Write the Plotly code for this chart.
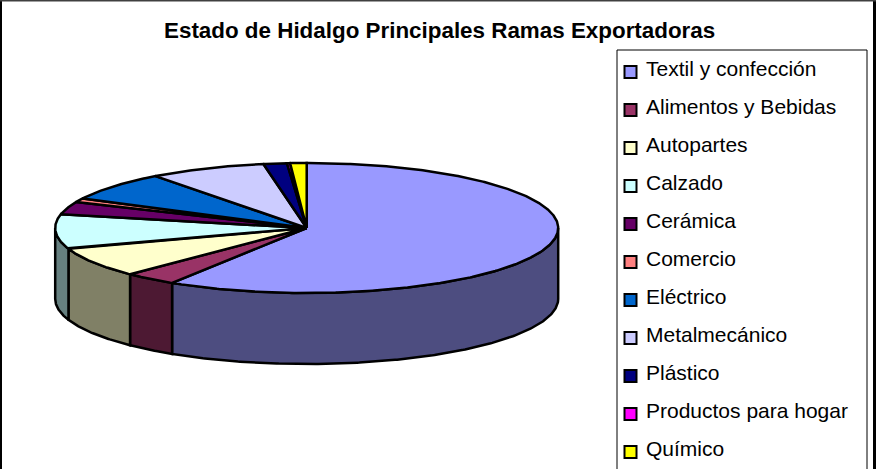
import numpy as np
import plotly.graph_objects as go

TITLE = "Estado de Hidalgo Principales Ramas Exportadoras"
categories = ["Textil y confección", "Alimentos y Bebidas", "Autopartes", "Calzado", "Cerámica",
              "Comercio", "Eléctrico", "Metalmecánico", "Plástico", "Productos para hogar", "Químico"]
values = [58.9, 3.4, 7.4, 8.6, 3.1, 1.0, 7.2, 7.5, 1.5, 0.2, 1.05]
top_colors = ["#9999FF", "#993366", "#FFFFCC", "#CCFFFF", "#660066", "#FF8080",
              "#0066CC", "#CCCCFF", "#000080", "#FF00FF", "#FFFF00"]
side_colors = ["#4D4D80", "#4D1933", "#808066", "#668080", "#330033", "#804040",
               "#003366", "#666680", "#000040", "#800080", "#808000"]

W, H = 876, 469
CX, CY, RX, RY, DEPTH = 306.7, 228, 251.5, 65, 71
FONT = "Liberation Sans"
EDGE = 2.5


def rim(a, b, drop=0.0):
    t = np.radians(np.linspace(a, b, max(2, int(abs(b - a) * 2) + 2)))
    return CX + RX * np.sin(t), CY - RY * np.cos(t) + drop


fig = go.Figure()
total = sum(values)
edges = np.concatenate([[0], np.cumsum(values) / total * 360])

# front walls
for name, a, b, col in zip(categories, edges[:-1], edges[1:], side_colors):
    lo, hi = max(a, 90), min(b, 270)
    if lo >= hi:
        continue
    x1, y1 = rim(lo, hi)
    x2, y2 = rim(hi, lo, DEPTH)
    fig.add_trace(go.Scatter(x=np.r_[x1, x2, x1[0]], y=np.r_[y1, y2, y1[0]], mode="lines", fill="toself",
                             fillcolor=col, line=dict(color="black", width=EDGE), name=name,
                             hoverinfo="skip", showlegend=False))

# top faces
for name, v, a, b, col in zip(categories, values, edges[:-1], edges[1:], top_colors):
    x, y = rim(a, b)
    fig.add_trace(go.Scatter(x=np.r_[CX, x, CX], y=np.r_[CY, y, CY], mode="lines", fill="toself",
                             fillcolor=col, line=dict(color="black", width=EDGE), name=name,
                             text=f"{name}: {v}", hoverinfo="text", showlegend=False))

# legend
LEG_X, LEG_Y0, LEG_STEP = 630.5, 72, 38
fig.add_shape(type="rect", x0=617, x1=867, y0=50, y1=480, line=dict(color="black", width=1), fillcolor="white", layer="below")
for i, (name, col) in enumerate(zip(categories, top_colors)):
    y = LEG_Y0 + i * LEG_STEP
    fig.add_trace(go.Scatter(x=[LEG_X], y=[y], mode="markers", showlegend=False, hoverinfo="skip",
                             marker=dict(symbol="square", size=12, color=col, line=dict(color="black", width=2))))
    fig.add_annotation(x=644, y=y - 4, text=name, showarrow=False, xanchor="left", yanchor="middle",
                       font=dict(family=FONT, size=21, color="black"))

fig.add_annotation(x=439, y=30, text=f"<b>{TITLE}</b>", showarrow=False, xanchor="center", yanchor="middle",
                   font=dict(family=FONT, size=22.4, color="black"))

# chart frame
fig.add_shape(type="line", x0=1, x1=1, y0=0, y1=H, line=dict(color="black", width=2))
fig.add_shape(type="line", x0=874.5, x1=874.5, y0=0, y1=H, line=dict(color="black", width=3))
fig.add_shape(type="line", x0=0, x1=W, y0=0.5, y1=0.5, line=dict(color="#404040", width=2))

fig.update_layout(width=W, height=H, margin=dict(l=0, r=0, t=0, b=0), autosize=False,
                  paper_bgcolor="white", plot_bgcolor="white", showlegend=False,
                  xaxis=dict(range=[0, W], visible=False, fixedrange=True),
                  yaxis=dict(range=[H, 0], visible=False, fixedrange=True))
fig.write_html("out.html", config={"displayModeBar": False},
               post_script="document.body.style.margin='0';document.body.style.overflow='hidden';")
